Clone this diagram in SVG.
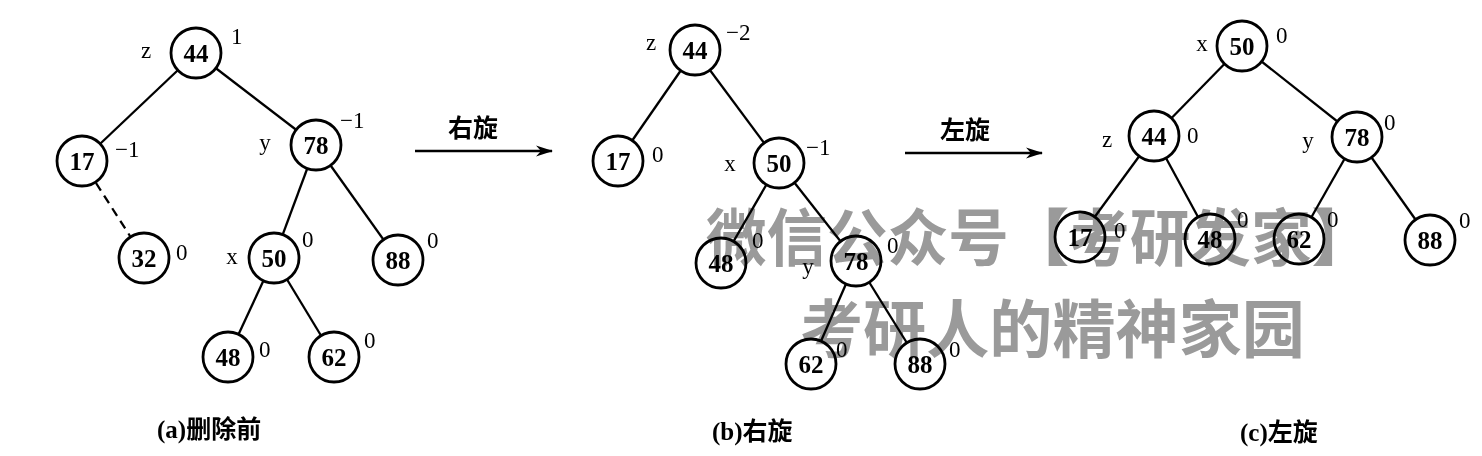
<svg xmlns="http://www.w3.org/2000/svg" width="1482" height="456" viewBox="0 0 1482 456">
<style>
.n circle{fill:#fff;stroke:#000;stroke-width:2.8}
.n text{font-family:"Liberation Serif",serif;font-size:25px;font-weight:bold;text-anchor:middle;fill:#000}
.e line{stroke:#000;stroke-width:2.3}
.e .d{stroke-dasharray:9 6}
.lb{font-family:"Liberation Serif",serif;font-size:23px;fill:#000}
.lm{text-anchor:middle}
.cap{font-family:"Liberation Serif","Noto Sans CJK SC",serif;font-size:25px;font-weight:bold;fill:#000}
.wm{font-family:"Noto Sans CJK SC","Noto Sans",sans-serif;font-weight:bold;fill:#9a9a9a;mix-blend-mode:multiply}
</style>
<defs>
<marker id="ah" markerWidth="18" markerHeight="12" refX="16" refY="6" orient="auto" markerUnits="userSpaceOnUse">
<path d="M0,0.5 L17,6 L0,11.5 L5,6 z" fill="#000"/>
</marker>
</defs>
<rect width="1482" height="456" fill="#fff"/>
<g id="connectors" class="e">
<line x1="196" y1="53" x2="82" y2="161"/>
<line x1="196" y1="53" x2="316" y2="145"/>
<line class="d" x1="96" y1="183" x2="130" y2="236"/>
<line x1="316" y1="145" x2="274" y2="258"/>
<line x1="316" y1="145" x2="398" y2="260"/>
<line x1="274" y1="258" x2="228" y2="357"/>
<line x1="274" y1="258" x2="334" y2="357"/>
<line x1="695" y1="50" x2="618" y2="161"/>
<line x1="695" y1="50" x2="779" y2="163"/>
<line x1="779" y1="163" x2="721" y2="263"/>
<line x1="779" y1="163" x2="856" y2="261"/>
<line x1="856" y1="261" x2="811" y2="364"/>
<line x1="856" y1="261" x2="920" y2="364"/>
<line x1="1242" y1="46" x2="1154" y2="136"/>
<line x1="1242" y1="46" x2="1357" y2="137"/>
<line x1="1154" y1="136" x2="1080" y2="237"/>
<line x1="1154" y1="136" x2="1210" y2="239"/>
<line x1="1357" y1="137" x2="1299" y2="239"/>
<line x1="1357" y1="137" x2="1430" y2="240"/>
<line x1="415" y1="151" x2="552" y2="151" marker-end="url(#ah)"/>
<line x1="905" y1="153" x2="1042" y2="153" marker-end="url(#ah)"/>
</g>
<g id="a44" class="n"><circle cx="196" cy="53" r="25"/><text x="196" y="62">44</text></g>
<g id="a17" class="n"><circle cx="82" cy="161" r="25"/><text x="82" y="170">17</text></g>
<g id="a78" class="n"><circle cx="316" cy="145" r="25"/><text x="316" y="154">78</text></g>
<g id="a32" class="n"><circle cx="144" cy="258" r="25"/><text x="144" y="267">32</text></g>
<g id="a50" class="n"><circle cx="274" cy="258" r="25"/><text x="274" y="267">50</text></g>
<g id="a88" class="n"><circle cx="398" cy="260" r="25"/><text x="398" y="269">88</text></g>
<g id="a48" class="n"><circle cx="228" cy="357" r="25"/><text x="228" y="366">48</text></g>
<g id="a62" class="n"><circle cx="334" cy="357" r="25"/><text x="334" y="366">62</text></g>
<g id="b44" class="n"><circle cx="695" cy="50" r="25"/><text x="695" y="59">44</text></g>
<g id="b17" class="n"><circle cx="618" cy="161" r="25"/><text x="618" y="170">17</text></g>
<g id="b50" class="n"><circle cx="779" cy="163" r="25"/><text x="779" y="172">50</text></g>
<g id="b48" class="n"><circle cx="721" cy="263" r="25"/><text x="721" y="272">48</text></g>
<g id="b78" class="n"><circle cx="856" cy="261" r="25"/><text x="856" y="270">78</text></g>
<g id="b62" class="n"><circle cx="811" cy="364" r="25"/><text x="811" y="373">62</text></g>
<g id="b88" class="n"><circle cx="920" cy="364" r="25"/><text x="920" y="373">88</text></g>
<g id="c50" class="n"><circle cx="1242" cy="46" r="25"/><text x="1242" y="55">50</text></g>
<g id="c44" class="n"><circle cx="1154" cy="136" r="25"/><text x="1154" y="145">44</text></g>
<g id="c78" class="n"><circle cx="1357" cy="137" r="25"/><text x="1357" y="146">78</text></g>
<g id="c17" class="n"><circle cx="1080" cy="237" r="25"/><text x="1080" y="246">17</text></g>
<g id="c48" class="n"><circle cx="1210" cy="239" r="25"/><text x="1210" y="248">48</text></g>
<g id="c62" class="n"><circle cx="1299" cy="239" r="25"/><text x="1299" y="248">62</text></g>
<g id="c88" class="n"><circle cx="1430" cy="240" r="25"/><text x="1430" y="249">88</text></g>
<g id="labels">
<text class="lb lm" x="146" y="58">z</text>
<text class="lb" x="231" y="44">1</text>
<text class="lb" x="340" y="128">−1</text>
<text class="lb" x="115" y="157">−1</text>
<text class="lb lm" x="265" y="150">y</text>
<text class="lb" x="176" y="260">0</text>
<text class="lb lm" x="232" y="264">x</text>
<text class="lb" x="302" y="247">0</text>
<text class="lb" x="427" y="248">0</text>
<text class="lb" x="259" y="357">0</text>
<text class="lb" x="364" y="348">0</text>
<text class="lb lm" x="651" y="50">z</text>
<text class="lb" x="726" y="40">−2</text>
<text class="lb" x="652" y="162">0</text>
<text class="lb lm" x="730" y="171">x</text>
<text class="lb" x="806" y="155">−1</text>
<text class="lb" x="752" y="248">0</text>
<text class="lb" x="887" y="253">0</text>
<text class="lb lm" x="808" y="274">y</text>
<text class="lb" x="836" y="357">0</text>
<text class="lb" x="949" y="357">0</text>
<text class="lb lm" x="1202" y="51">x</text>
<text class="lb" x="1276" y="43">0</text>
<text class="lb lm" x="1107" y="147">z</text>
<text class="lb" x="1187" y="143">0</text>
<text class="lb lm" x="1308" y="148">y</text>
<text class="lb" x="1384" y="130">0</text>
<text class="lb" x="1114" y="238">0</text>
<text class="lb" x="1237" y="227">0</text>
<text class="lb" x="1327" y="227">0</text>
<text class="lb" x="1459" y="228">0</text>
<text class="cap" x="448" y="137">右旋</text>
<text class="cap" x="940" y="139">左旋</text>
<text class="cap" x="157" y="438">(a)删除前</text>
<text class="cap" x="712" y="440">(b)右旋</text>
<text class="cap" x="1240" y="441">(c)左旋</text>
</g>
<g id="watermark">
<text class="wm" x="706" y="261" font-size="62" textLength="666" lengthAdjust="spacingAndGlyphs">微信公众号【考研发家】</text>
<text class="wm" x="800" y="352" font-size="63" textLength="505" lengthAdjust="spacingAndGlyphs">考研人的精神家园</text>
</g>
</svg>
